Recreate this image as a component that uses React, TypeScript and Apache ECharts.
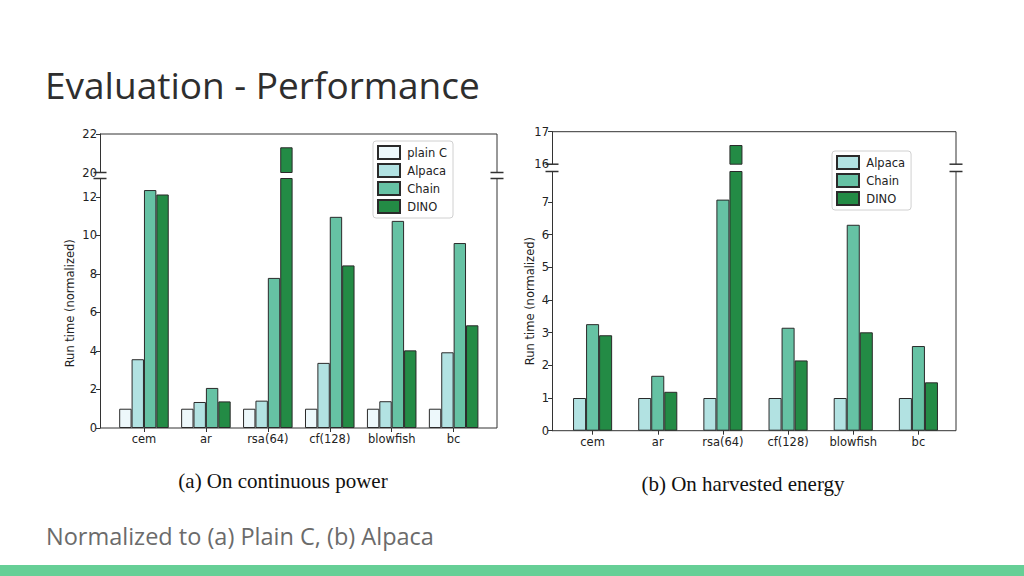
import React, { useEffect, useRef } from "react";
import * as echarts from "echarts";

const categories = ["cem", "ar", "rsa(64)", "cf(128)", "blowfish", "bc"];

// (a) On continuous power — normalized to plain C
const aPlainC = [1, 1, 1, 1, 1, 1];
const aAlpaca = [3.57, 1.35, 1.42, 3.38, 1.39, 3.93];
const aChain = [12.35, 2.08, 7.79, 10.96, 10.75, 9.6];
const aDino = [12.12, 1.38, 21.31, 8.44, 4.03, 5.33];

// (b) On harvested energy — normalized to Alpaca
const bAlpaca = [1, 1, 1, 1, 1, 1];
const bChain = [3.26, 1.68, 7.07, 3.15, 6.3, 2.59];
const bDino = [2.92, 1.19, 16.59, 2.15, 3.01, 1.48];

const colors: Record<string, string> = {
  "plain C": "#edf8fb",
  Alpaca: "#b2e2e2",
  Chain: "#66c2a4",
  DINO: "#238b45",
};

const titleText = "Evaluation - Performance";
const subtitleText = "Normalized to (a) Plain C, (b) Alpaca";
const captionA = "(a) On continuous power";
const captionB = "(b) On harvested energy";
const yName = "Run time (normalized)";

const FONT = "DejaVu Sans";
const FS = 11.5;
const INK = "#333";

type Panel = {
  x0: number; x1: number; bandL: number; bandR: number;
  upTop: number; upBot: number; loTop: number; loBot: number;
  upRange: [number, number]; upInt: number;
  loRange: [number, number]; loInt: number;
  catGap: string; nameGap: number;
  legendLeft: number; legendTop: number;
  series: { name: string; data: number[] }[];
};

const panels: Panel[] = [
  {
    x0: 100, x1: 497, bandL: 113, bandR: 484.6,
    upTop: 134, upBot: 172.5, loTop: 178.5, loBot: 428,
    upRange: [20, 22], upInt: 2, loRange: [0, 12.95], loInt: 2,
    catGap: "20%", nameGap: 24,
    legendLeft: 373, legendTop: 141,
    series: [
      { name: "plain C", data: aPlainC },
      { name: "Alpaca", data: aAlpaca },
      { name: "Chain", data: aChain },
      { name: "DINO", data: aDino },
    ],
  },
  {
    x0: 552, x1: 956, bandL: 560, bandR: 951,
    upTop: 131.7, upBot: 164.2, loTop: 171.5, loBot: 430.7,
    upRange: [16, 17], upInt: 1, loRange: [0, 7.93], loInt: 1,
    catGap: "40%", nameGap: 16,
    legendLeft: 832, legendTop: 151,
    series: [
      { name: "Alpaca", data: bAlpaca },
      { name: "Chain", data: bChain },
      { name: "DINO", data: bDino },
    ],
  },
];

function buildOption() {
  const grid: any[] = [];
  const xAxis: any[] = [];
  const yAxis: any[] = [];
  const series: any[] = [];
  const graphic: any[] = [];
  const legend: any[] = [];

  panels.forEach((p, pi) => {
    const gu = pi * 2;
    const gl = pi * 2 + 1;
    const width = p.bandR - p.bandL;
    grid.push({ left: p.bandL, width, top: p.upTop, height: p.upBot - p.upTop });
    grid.push({ left: p.bandL, width, top: p.loTop, height: p.loBot - p.loTop });
    const offset = p.bandL - p.x0;

    xAxis.push({ type: "category", gridIndex: gu, data: categories, show: false });
    xAxis.push({
      type: "category", gridIndex: gl, data: categories,
      axisLine: { show: false },
      axisTick: { show: true, alignWithLabel: true, length: 4, lineStyle: { color: INK, width: 1 } },
      axisLabel: { interval: 0, fontSize: FS, fontFamily: FONT, color: "#222", margin: 5 },
      splitLine: { show: false },
    });

    const yCommon = {
      type: "value", offset,
      axisLine: { show: true, lineStyle: { color: INK, width: 1 } },
      axisTick: { show: true, length: 4, lineStyle: { color: INK, width: 1 } },
      splitLine: { show: false },
    };
    yAxis.push({
      ...yCommon, gridIndex: gu, min: p.upRange[0], max: p.upRange[1], interval: p.upInt,
      axisLabel: { fontSize: FS, fontFamily: FONT, color: "#222", margin: 3 },
    });
    yAxis.push({
      ...yCommon, gridIndex: gl, min: p.loRange[0], max: p.loRange[1], interval: p.loInt,
      axisLabel: { fontSize: FS, fontFamily: FONT, color: "#222", margin: 3, showMaxLabel: false },
      name: yName, nameLocation: "middle", nameGap: p.nameGap,
      nameTextStyle: { fontSize: FS, fontFamily: FONT, color: "#222" },
    });

    p.series.forEach((s) => {
      const base = {
        type: "bar", name: s.name, barGap: "0%", barCategoryGap: p.catGap,
        itemStyle: { color: colors[s.name], borderColor: "#2a2a2a", borderWidth: 1 },
        clip: true, emphasis: { disabled: true },
      };
      series.push({
        ...base, xAxisIndex: gu, yAxisIndex: gu,
        data: s.data.map((v) => (v > p.upRange[0] ? v : "-")),
      });
      series.push({ ...base, xAxisIndex: gl, yAxisIndex: gl, data: s.data });
    });

    const ln = (x1: number, y1: number, x2: number, y2: number, w = 1) => ({
      type: "line", silent: true,
      shape: { x1, y1, x2, y2 },
      style: { stroke: INK, lineWidth: w },
    });
    graphic.push(ln(p.x0, p.upTop, p.x1, p.upTop));
    graphic.push(ln(p.x0, p.loBot, p.x1, p.loBot));
    graphic.push(ln(p.x1, p.upTop, p.x1, p.upBot));
    graphic.push(ln(p.x1, p.loTop, p.x1, p.loBot));
    [p.x0, p.x1].forEach((x) => {
      graphic.push(ln(x - 6.5, p.upBot, x + 6.5, p.upBot, 1.5));
      graphic.push(ln(x - 6.5, p.loTop, x + 6.5, p.loTop, 1.5));
    });

    legend.push({
      data: p.series.map((s) => s.name),
      orient: "vertical", left: p.legendLeft, top: p.legendTop,
      itemWidth: 22, itemHeight: 13, itemGap: 3, icon: "rect",
      backgroundColor: "#fff", borderColor: "#d0d0d0", borderWidth: 1, borderRadius: 3,
      padding: [4, 6, 4, 4], selectedMode: false,
      formatter: (name: string) => "\u2009" + name,
      textStyle: { fontSize: FS, fontFamily: FONT, color: "#222" },
    });
  });

  graphic.push({
    type: "text", x: 45, y: 84,
    style: { text: titleText, fontSize: 37, fontFamily: "Open Sans", fill: "#2e2e2e", verticalAlign: "middle" },
  });
  graphic.push({
    type: "text", x: 46, y: 536,
    style: { text: subtitleText, fontSize: 23.5, fontFamily: "Open Sans", fill: "#6b6b6b", verticalAlign: "middle" },
  });
  graphic.push({
    type: "text", x: 283, y: 481,
    style: { text: captionA, fontSize: 21, fontFamily: "Liberation Serif", fill: "#111", align: "center", verticalAlign: "middle" },
  });
  graphic.push({
    type: "text", x: 743, y: 484,
    style: { text: captionB, fontSize: 21, fontFamily: "Liberation Serif", fill: "#111", align: "center", verticalAlign: "middle" },
  });
  graphic.push({
    type: "rect", shape: { x: 0, y: 565, width: 1024, height: 11 },
    style: { fill: "#66cf96" }, silent: true,
  });

  return {
    animation: false,
    backgroundColor: "#fff",
    textStyle: { fontFamily: FONT },
    grid, xAxis, yAxis, series, legend, graphic,
  };
}

export default function App() {
  const ref = useRef<HTMLDivElement>(null);
  useEffect(() => {
    if (!ref.current) return;
    const chart = echarts.init(ref.current, undefined, { renderer: "svg" });
    chart.setOption(buildOption() as any);
    return () => chart.dispose();
  }, []);
  return (
    <div
      ref={ref}
      style={{ position: "absolute", left: 0, top: 0, width: 1024, height: 576, background: "#fff" }}
    />
  );
}
